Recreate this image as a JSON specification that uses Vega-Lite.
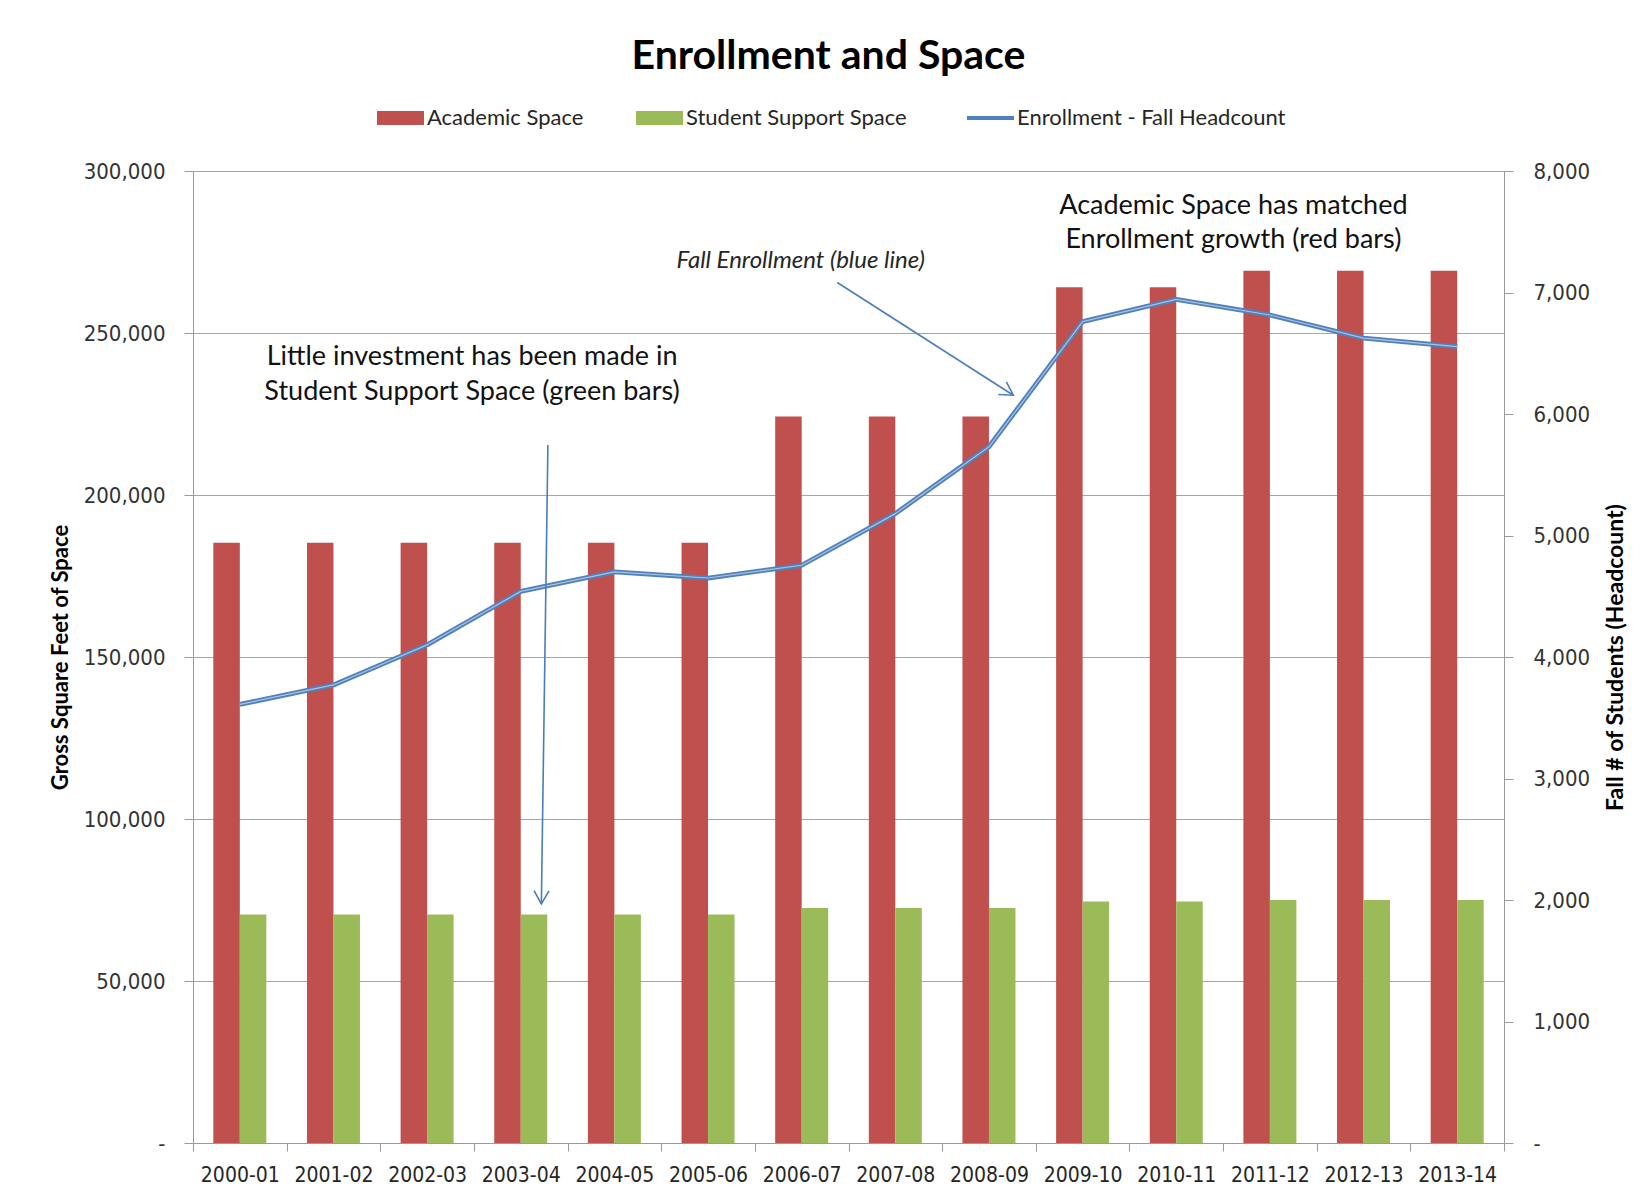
{
  "$schema": "https://vega.github.io/schema/vega-lite/v6.json",
  "autosize": {"type": "none"},
  "width": 1311,
  "height": 972,
  "padding": {"left": 193, "top": 171, "right": 148, "bottom": 52},
  "background": "white",
  "title": {
    "text": "Enrollment and Space",
    "font": "Lato",
    "fontSize": 41,
    "fontWeight": "bold",
    "color": "#000000",
    "anchor": "middle",
    "frame": "group",
    "dx": -20,
    "offset": 29
  },
  "config": {
    "font": "Lato",
    "view": {"stroke": null},
    "axis": {
      "labelFont": "DejaVu Sans Condensed, DejaVu Sans",
      "labelFontSize": 22,
      "labelColor": "#333333",
      "domainColor": "#9a9a9a",
      "tickColor": "#9a9a9a",
      "gridColor": "#a6a6a6",
      "gridWidth": 1.2,
      "titleFont": "Lato",
      "titleFontSize": 22,
      "titleFontWeight": "bold",
      "titleColor": "#000000"
    }
  },
  "datasets": {
    "space": [
      {"year": "2000-01", "series": "Academic Space", "sqft": 185300},
      {"year": "2001-02", "series": "Academic Space", "sqft": 185300},
      {"year": "2002-03", "series": "Academic Space", "sqft": 185300},
      {"year": "2003-04", "series": "Academic Space", "sqft": 185300},
      {"year": "2004-05", "series": "Academic Space", "sqft": 185300},
      {"year": "2005-06", "series": "Academic Space", "sqft": 185300},
      {"year": "2006-07", "series": "Academic Space", "sqft": 224200},
      {"year": "2007-08", "series": "Academic Space", "sqft": 224200},
      {"year": "2008-09", "series": "Academic Space", "sqft": 224200},
      {"year": "2009-10", "series": "Academic Space", "sqft": 264100},
      {"year": "2010-11", "series": "Academic Space", "sqft": 264100},
      {"year": "2011-12", "series": "Academic Space", "sqft": 269200},
      {"year": "2012-13", "series": "Academic Space", "sqft": 269200},
      {"year": "2013-14", "series": "Academic Space", "sqft": 269200},
      {"year": "2000-01", "series": "Student Support Space", "sqft": 70500},
      {"year": "2001-02", "series": "Student Support Space", "sqft": 70500},
      {"year": "2002-03", "series": "Student Support Space", "sqft": 70500},
      {"year": "2003-04", "series": "Student Support Space", "sqft": 70500},
      {"year": "2004-05", "series": "Student Support Space", "sqft": 70500},
      {"year": "2005-06", "series": "Student Support Space", "sqft": 70500},
      {"year": "2006-07", "series": "Student Support Space", "sqft": 72500},
      {"year": "2007-08", "series": "Student Support Space", "sqft": 72500},
      {"year": "2008-09", "series": "Student Support Space", "sqft": 72500},
      {"year": "2009-10", "series": "Student Support Space", "sqft": 74500},
      {"year": "2010-11", "series": "Student Support Space", "sqft": 74500},
      {"year": "2011-12", "series": "Student Support Space", "sqft": 75000},
      {"year": "2012-13", "series": "Student Support Space", "sqft": 75000},
      {"year": "2013-14", "series": "Student Support Space", "sqft": 75000}
    ],
    "enrollment": [
      {"year": "2000-01", "headcount": 3610},
      {"year": "2001-02", "headcount": 3770},
      {"year": "2002-03", "headcount": 4100},
      {"year": "2003-04", "headcount": 4540},
      {"year": "2004-05", "headcount": 4700},
      {"year": "2005-06", "headcount": 4650},
      {"year": "2006-07", "headcount": 4755},
      {"year": "2007-08", "headcount": 5180},
      {"year": "2008-09", "headcount": 5730},
      {"year": "2009-10", "headcount": 6760},
      {"year": "2010-11", "headcount": 6944},
      {"year": "2011-12", "headcount": 6815},
      {"year": "2012-13", "headcount": 6625},
      {"year": "2013-14", "headcount": 6554}
    ],
    "notes": [
      {"note": "Little investment has been made in", "style": "normal", "pos": 2.98, "level": 242600},
      {"note": "Student Support Space (green bars)", "style": "normal", "pos": 2.98, "level": 231800},
      {"note": "Academic Space has matched", "style": "normal", "pos": 11.11, "level": 289350},
      {"note": "Enrollment growth (red bars)", "style": "normal", "pos": 11.11, "level": 278650},
      {"note": "Fall Enrollment (blue line)", "style": "italic", "pos": 6.49, "level": 272200}
    ],
    "arrows": [
      {"arrow": "support", "pos": 3.79, "level": 215400, "pos2": 3.72, "level2": 73800},
      {"arrow": "enrollment", "pos": 6.88, "level": 265600, "pos2": 8.76, "level2": 230800}
    ]
  },
  "layer": [
    {
      "data": {"name": "space"},
      "mark": {"type": "bar"},
      "encoding": {
        "x": {
          "field": "year",
          "type": "nominal",
          "scale": {"paddingInner": 0, "paddingOuter": 0},
          "axis": {
            "title": null,
            "labelAngle": 0,
            "labelFontSize": 21,
            "labelColor": "#262626",
            "tickBand": "extent",
            "tickSize": 8,
            "labelPadding": 13,
            "grid": false
          }
        },
        "xOffset": {
          "field": "series",
          "type": "nominal",
          "scale": {"domain": ["Academic Space", "Student Support Space"], "paddingInner": 0, "paddingOuter": 0.767}
        },
        "y": {
          "field": "sqft",
          "type": "quantitative",
          "scale": {"domain": [0, 300000], "nice": false},
          "axis": {
            "orient": "left",
            "title": "Gross Square Feet of Space",
            "values": [0, 50000, 100000, 150000, 200000, 250000, 300000],
            "labelExpr": "datum.value === 0 ? '-\u2007\u2007' : format(datum.value, ',')",
            "tickSize": 9,
            "labelPadding": 19,
            "grid": true,
            "titleAngle": 270,
            "titleBaseline": "middle",
            "titleX": -133
          }
        },
        "color": {
          "field": "series",
          "type": "nominal",
          "scale": {
            "domain": ["Academic Space", "Student Support Space", "Enrollment - Fall Headcount"],
            "range": ["#C0504D", "#9BBB59", "#4F81BD"]
          },
          "legend": {
            "orient": "none",
            "legendX": 208,
            "legendY": -64,
            "direction": "horizontal",
            "title": null,
            "symbolSize": 2209,
            "labelFont": "Lato",
            "labelFontSize": 22,
            "labelColor": "#262626",
            "labelOffset": 4,
            "labelLimit": 400,
            "columnPadding": 51,
            "encode": {
              "symbols": {
                "update": {
                  "shape": {"signal": "datum.value === 'Enrollment - Fall Headcount' ? 'M -1.49 0 H 0.51' : 'M -1.49 -0.3 H 0.51 V 0.3 H -1.49 Z'"},
                  "fill": {"signal": "datum.value === 'Enrollment - Fall Headcount' ? 'transparent' : scale('color', datum.value)"},
                  "stroke": {"signal": "scale('color', datum.value)"},
                  "strokeWidth": {"signal": "datum.value === 'Enrollment - Fall Headcount' ? 4 : 0"},
                  "opacity": {"value": 1}
                }
              }
            }
          }
        }
      }
    },
    {
      "data": {"name": "enrollment"},
      "encoding": {
        "x": {
          "field": "year",
          "type": "nominal",
          "scale": {"paddingInner": 0, "paddingOuter": 0},
          "axis": null
        },
        "y": {
          "field": "headcount",
          "type": "quantitative",
          "scale": {"domain": [0, 8000], "nice": false},
          "axis": {
            "orient": "right",
            "title": "Fall # of Students (Headcount)",
            "titleFontSize": 23,
            "values": [0, 1000, 2000, 3000, 4000, 5000, 6000, 7000, 8000],
            "labelExpr": "datum.value === 0 ? '-' : format(datum.value, ',')",
            "tickSize": 9,
            "labelPadding": 20,
            "grid": false,
            "titleAngle": 270,
            "titleBaseline": "middle",
            "titleX": 111
          }
        }
      },
      "layer": [
        {
          "mark": {"type": "line", "strokeWidth": 4.8, "strokeJoin": "round"},
          "encoding": {"color": {"datum": "Enrollment - Fall Headcount"}}
        },
        {
          "mark": {"type": "line", "strokeWidth": 1.2, "color": "#a9c2e2", "strokeJoin": "round"},
          "encoding": {}
        }
      ]
    },
    {
      "encoding": {
        "x": {"type": "quantitative", "scale": {"domain": [0, 14], "nice": false, "zero": false}, "axis": null},
        "y": {"type": "quantitative", "scale": {"domain": [0, 300000], "nice": false}, "axis": null}
      },
      "layer": [
        {
          "data": {"name": "notes"},
          "transform": [{"filter": "datum.style === 'normal'"}],
          "mark": {"type": "text", "font": "Lato", "fontSize": 27, "color": "#111111", "align": "center", "baseline": "middle"},
          "encoding": {
            "x": {"field": "pos", "type": "quantitative"},
            "y": {"field": "level", "type": "quantitative"},
            "text": {"field": "note"}
          }
        },
        {
          "data": {"name": "notes"},
          "transform": [{"filter": "datum.style === 'italic'"}],
          "mark": {"type": "text", "font": "Lato", "fontSize": 24, "fontStyle": "italic", "color": "#262626", "align": "center", "baseline": "middle"},
          "encoding": {
            "x": {"field": "pos", "type": "quantitative"},
            "y": {"field": "level", "type": "quantitative"},
            "text": {"field": "note"}
          }
        },
        {
          "data": {"name": "arrows"},
          "mark": {"type": "rule", "color": "#4A7EBB", "strokeWidth": 1.6},
          "encoding": {
            "x": {"field": "pos", "type": "quantitative"},
            "y": {"field": "level", "type": "quantitative"},
            "x2": {"field": "pos2"},
            "y2": {"field": "level2"}
          }
        },
        {
          "data": {"name": "arrows"},
          "transform": [{"filter": "datum.arrow === 'support'"}],
          "mark": {"type": "point", "shape": "M -0.5 0.87 L 0 0 L 0.5 0.87", "size": 900, "angle": 180.8, "filled": false, "color": "#4A7EBB", "strokeWidth": 1.6, "opacity": 1},
          "encoding": {
            "x": {"field": "pos2", "type": "quantitative"},
            "y": {"field": "level2", "type": "quantitative"}
          }
        },
        {
          "data": {"name": "arrows"},
          "transform": [{"filter": "datum.arrow === 'enrollment'"}],
          "mark": {"type": "point", "shape": "M -0.5 0.87 L 0 0 L 0.5 0.87", "size": 900, "angle": 122.6, "filled": false, "color": "#4A7EBB", "strokeWidth": 1.6, "opacity": 1},
          "encoding": {
            "x": {"field": "pos2", "type": "quantitative"},
            "y": {"field": "level2", "type": "quantitative"}
          }
        }
      ]
    }
  ],
  "resolve": {"scale": {"x": "independent", "y": "independent"}}
}
